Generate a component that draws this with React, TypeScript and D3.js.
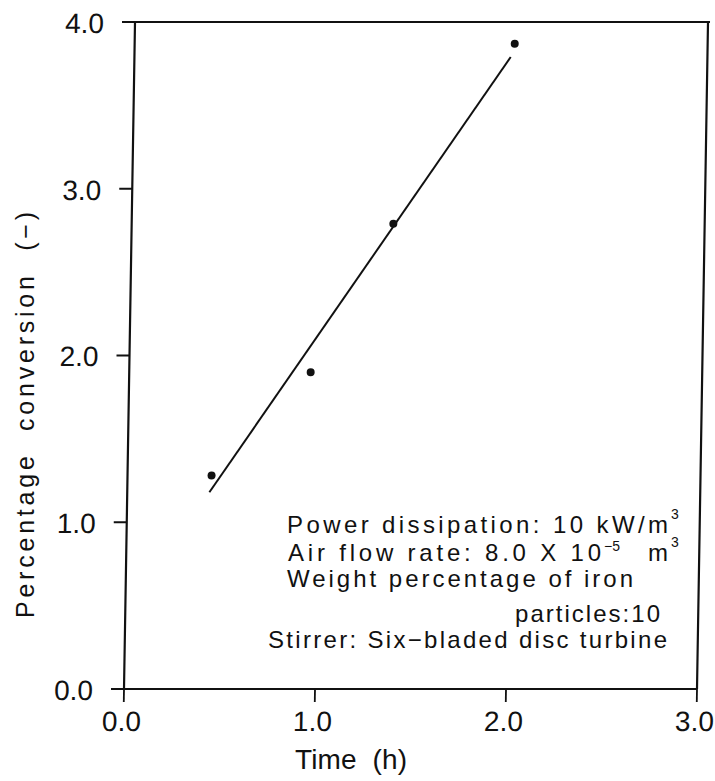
import React from 'react';
import * as d3 from 'd3';

// Measured conversion versus time
const timeH = [0.44, 0.95, 1.37, 1.99];
const conversionPct = [1.28, 1.9, 2.79, 3.87];

// Fitted straight line (end points)
const fitTime = [0.43, 1.97];
const fitConversion = [1.18, 3.79];

const xTicks = [0, 1, 2, 3];
const yTicks = [0, 1, 2, 3, 4];

const W = 715;
const H = 781;
const FONT = "'Liberation Sans', Arial, sans-serif";

// slight shear of the drawn frame (left edge leans right toward the top)
const SHEAR = 0.0165;

export default function App() {
  const x = d3.scaleLinear().domain([0, 3]).range([124, 697]);
  const y = d3.scaleLinear().domain([0, 4]).range([689, 22]);

  const fitLine = d3
    .line<number>()
    .x((_, i) => x(fitTime[i]))
    .y((_, i) => y(fitConversion[i]))(fitTime) as string;

  const shearDeg = (-Math.atan(SHEAR) * 180) / Math.PI;
  const shear = `translate(${689 * SHEAR},0) skewX(${shearDeg})`;

  const x0 = x(0);
  const x1 = x(3);
  const y0 = y(0);
  const y1 = y(4);

  return (
    <svg
      width={W}
      height={H}
      viewBox={`0 0 ${W} ${H}`}
      style={{ position: 'absolute', left: 0, top: 0, background: '#fff' }}
      fontFamily={FONT}
    >
      <rect width={W} height={H} fill="#fff" />
      <g transform={shear}>
        {/* frame */}
        <path
          d={`M${x0},${y1} L${x1 + 2},${y1} M${x1},${y1} L${x1},${y0} M${x0},${y0} L${x1},${y0} M${x0},${y0} L${x0},${y1}`}
          fill="none"
          stroke="#111"
          strokeWidth={2.2}
        />
        {/* y ticks */}
        {yTicks.map((t) => (
          <g key={`yt${t}`}>
            <line x1={x0 - 13} x2={x0} y1={y(t)} y2={y(t)} stroke="#111" strokeWidth={1.8} />
            <text x={93} y={y(t) + 11} textAnchor="end" fontSize={28} fill="#111">
              {d3.format('.1f')(t)}
            </text>
          </g>
        ))}
        {/* x ticks */}
        {xTicks.map((t) => (
          <g key={`xt${t}`}>
            <line x1={x(t)} x2={x(t)} y1={y0} y2={y0 + 13} stroke="#111" strokeWidth={1.8} />
            <text x={x(t) - 2} y={731} textAnchor="middle" fontSize={28} fill="#111">
              {d3.format('.1f')(t)}
            </text>
          </g>
        ))}
        {/* fitted line */}
        <path d={fitLine} fill="none" stroke="#111" strokeWidth={2} />
        {/* data points */}
        {timeH.map((t, i) => (
          <circle key={`p${i}`} cx={x(t)} cy={y(conversionPct[i])} r={4} fill="#111" />
        ))}
      </g>

      {/* axis titles */}
      <text
        transform="translate(34,618) rotate(-90)"
        fontSize={25}
        fill="#111"
        textLength={406}
        lengthAdjust="spacing"
        style={{ whiteSpace: 'pre' }}
      >
        {'Percentage  conversion  (−)'}
      </text>
      <text
        x={295}
        y={769}
        fontSize={28}
        fill="#111"
        textLength={112}
        lengthAdjust="spacing"
        style={{ whiteSpace: 'pre' }}
      >
        {'Time  (h)'}
      </text>

      {/* operating conditions */}
      <g fontSize={24} fill="#111" style={{ whiteSpace: 'pre' }}>
        <text x={287} y={533} textLength={381} lengthAdjust="spacing">
          {'Power  dissipation:  10  kW/m'}
        </text>
        <text x={671} y={519} fontSize={14}>3</text>
        <text x={288} y={561} textLength={313} lengthAdjust="spacing">
          {'Air  flow  rate:  8.0  X  10'}
        </text>
        <text x={604} y={551} fontSize={14}>−5</text>
        <text x={648} y={561}>m</text>
        <text x={671} y={547} fontSize={14}>3</text>
        <text x={287} y={587} textLength={346} lengthAdjust="spacing">
          {'Weight  percentage  of  iron'}
        </text>
        <text x={515} y={622} textLength={145} lengthAdjust="spacing">
          {'particles:10'}
        </text>
        <text x={268} y={648} textLength={399} lengthAdjust="spacing">
          {'Stirrer:  Six−bladed  disc  turbine'}
        </text>
      </g>
    </svg>
  );
}
